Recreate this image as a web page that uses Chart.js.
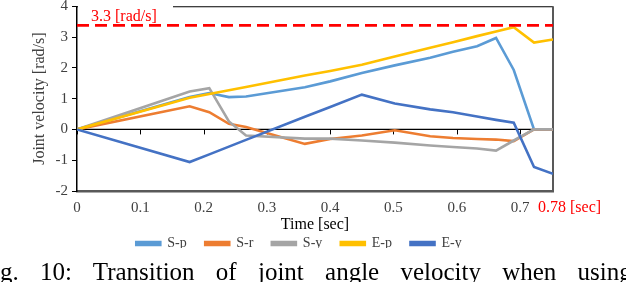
<!DOCTYPE html>
<html>
<head>
<meta charset="utf-8">
<script src="https://cdn.jsdelivr.net/npm/chart.js@4.4.1/dist/chart.umd.min.js"></script>
<style>
  html, body { margin: 0; padding: 0; background: #fff; }
  #wrap { position: relative; width: 626px; height: 282px; overflow: hidden; }
  #box { position: absolute; left: 0; top: 0; width: 626px; height: 282px; }
  #caption {
    position: absolute; left: 0; top: 259px;
    font-family: "Liberation Serif", serif; font-size: 25px; line-height: 25px;
    color: #000; white-space: nowrap; word-spacing: 15px;
  }
</style>
</head>
<body>
<div id="wrap">
  <div id="box"><canvas id="velChart"></canvas></div>
  <div id="caption">g. 10: Transition of joint angle velocity when using</div>
</div>
<script>
// time samples [sec] and joint velocities [rad/s]
const timeSec = [0, 0.178, 0.209, 0.240, 0.267, 0.360, 0.400, 0.450, 0.502, 0.558, 0.594, 0.632, 0.662, 0.690, 0.722, 0.752];
const sP = [0, 1.05, 1.18, 1.05, 1.07, 1.37, 1.56, 1.83, 2.08, 2.33, 2.52, 2.70, 2.97, 1.93, 0, 0];
const sR = [0, 0.75, 0.56, 0.18, 0.08, -0.47, -0.31, -0.20, -0.03, -0.22, -0.28, -0.31, -0.33, -0.38, 0, 0];
const sY = [0, 1.23, 1.34, 0.26, -0.20, -0.30, -0.30, -0.36, -0.43, -0.52, -0.57, -0.62, -0.69, -0.36, 0, 0];
const eP = [0, 1.03, 1.15, 1.27, 1.38, 1.75, 1.90, 2.10, 2.37, 2.65, 2.83, 3.03, 3.18, 3.32, 2.82, 2.92];
const eY = [0, -1.06, -0.81, -0.56, -0.34, 0.41, 0.73, 1.13, 0.84, 0.65, 0.56, 0.42, 0.31, 0.22, -1.22, -1.44];

const seriesNames = ["S-p", "S-r", "S-y", "E-p", "E-y"];
const seriesColors = ["#5B9BD5", "#ED7D31", "#A5A5A5", "#FFC000", "#4472C4"];

const limitValue = 3.38;       // dashed limit line
const limitLabel = "3.3 [rad/s]";
const endLabel = "0.78 [sec]";

const timeTicks = [0, 0.1, 0.2, 0.3, 0.4, 0.5, 0.6, 0.7];
const velTicks = [-2, -1, 0, 1, 2, 3, 4];
const timeMax = 0.752;

const serif = "'Liberation Serif', 'Times New Roman', serif";
const legendBoxHeight = 30;

function toXY(vals) {
  return vals.map((v, i) => ({ x: timeSec[i], y: v }));
}

const allSeries = [sP, sR, sY, eP, eY];
const datasets = allSeries.map((vals, i) => ({
  label: seriesNames[i],
  data: toXY(vals),
  borderColor: seriesColors[i],
  backgroundColor: seriesColors[i],
  borderWidth: 2.6,
  pointRadius: 0,
  tension: 0,
  order: 10 - i
}));

datasets.push({
  label: "limit",
  data: [{ x: 0, y: limitValue }, { x: timeMax, y: limitValue }],
  borderColor: "#FF0000",
  backgroundColor: "#FF0000",
  borderWidth: 2.8,
  borderDash: [12, 6],
  pointRadius: 0,
  order: 0
});

// legend keeps its item spacing but takes less height
const legendHeight = {
  id: "legendHeight",
  beforeLayout(chart) {
    const lg = chart.legend;
    if (lg && !lg._fitPatched) {
      const origFit = lg.fit;
      lg.fit = function () {
        origFit.call(this);
        this.height = legendBoxHeight;
      };
      lg._fitPatched = true;
    }
  }
};

// axis line at 0, small ticks, frame and red labels like the Excel figure
const excelFrame = {
  id: "excelFrame",
  beforeDatasetsDraw(chart) {
    const { ctx, chartArea, scales } = chart;
    const y0 = scales.y.getPixelForValue(0);
    ctx.save();
    ctx.strokeStyle = "#000";
    ctx.lineWidth = 1.3;
    ctx.beginPath();
    ctx.moveTo(chartArea.left, y0);
    ctx.lineTo(chartArea.right, y0);
    ctx.stroke();
    ctx.lineWidth = 1;
    timeTicks.forEach(t => {
      const px = Math.round(scales.x.getPixelForValue(t)) + 0.5;
      ctx.beginPath();
      ctx.moveTo(px, y0);
      ctx.lineTo(px, y0 + 5);
      ctx.stroke();
    });
    // top and right frame
    ctx.beginPath();
    ctx.moveTo(chartArea.left, chartArea.top + 0.5);
    ctx.lineTo(chartArea.right, chartArea.top + 0.5);
    ctx.stroke();
    ctx.strokeStyle = "#595959";
    ctx.lineWidth = 2;
    ctx.beginPath();
    ctx.moveTo(chartArea.right, chartArea.top);
    ctx.lineTo(chartArea.right, chartArea.bottom);
    ctx.stroke();
    ctx.restore();
  },
  afterDatasetsDraw(chart) {
    const { ctx, chartArea, scales } = chart;
    ctx.save();
    ctx.fillStyle = "#fff";
    ctx.fillRect(chartArea.left + 1, 0, 95, scales.y.getPixelForValue(limitValue) - 2.5);
    ctx.fillStyle = "#FF0000";
    ctx.font = "16px " + serif;
    ctx.textBaseline = "alphabetic";
    ctx.fillText(limitLabel, chartArea.left + 14, chartArea.top + 15);
    ctx.textBaseline = "middle";
    ctx.fillText(endLabel, chartArea.right - 15, chartArea.bottom + 17);
    ctx.restore();
  }
};

const ctxVel = document.getElementById("velChart").getContext("2d");
const chart = new Chart(ctxVel, {
  type: "line",
  data: { datasets: datasets },
  options: {
    responsive: true,
    maintainAspectRatio: false,
    animation: false,
    layout: { padding: { top: 6, right: 28, bottom: 34, left: 0 } },
    plugins: {
      tooltip: { enabled: false },
      legend: {
        position: "bottom",
        labels: {
          filter: item => item.text !== "limit",
          sort: (a, b) => a.datasetIndex - b.datasetIndex,
          boxWidth: 24,
          boxHeight: 3,
          padding: 18.5,
          color: "#404040",
          font: { family: serif, size: 14 }
        }
      }
    },
    scales: {
      x: {
        type: "linear",
        min: 0,
        max: timeMax,
        afterBuildTicks: scale => { scale.ticks = timeTicks.map(v => ({ value: v })); },
        afterFit: scale => { scale.height = 27; },
        grid: { display: false, drawTicks: false },
        border: { display: true, color: "#595959", width: 2.5 },
        ticks: {
          autoSkip: false,
          maxRotation: 0,
          padding: 8,
          color: "#404040",
          font: { family: serif, size: 15 },
          callback: v => (v === 0 ? "0" : v.toFixed(1))
        },
        title: {
          display: true,
          text: "Time [sec]",
          color: "#000",
          font: { family: serif, size: 16 },
          padding: { top: 0, bottom: -16.6 }
        }
      },
      y: {
        min: -2,
        max: 4,
        afterBuildTicks: scale => { scale.ticks = velTicks.map(v => ({ value: v })); },
        afterFit: scale => { scale.width = 77; },
        grid: { drawOnChartArea: false, drawTicks: true, tickLength: 5, color: "#000" },
        border: { display: true, color: "#000", width: 1.5 },
        ticks: {
          padding: 4,
          color: "#404040",
          font: { family: serif, size: 15, lineHeight: 0.3 }
        },
        title: {
          display: true,
          text: "Joint velocity [rad/s]",
          color: "#404040",
          font: { family: serif, size: 16 },
          padding: { top: 30, bottom: 0 }
        }
      },
      yRight: {
        position: "right",
        afterFit: scale => { scale.width = 45; },
        grid: { display: false, drawTicks: false },
        border: { display: false },
        ticks: { display: false },
        title: { display: false }
      }
    }
  },
  plugins: [excelFrame, legendHeight]
});
</script>
</body>
</html>
